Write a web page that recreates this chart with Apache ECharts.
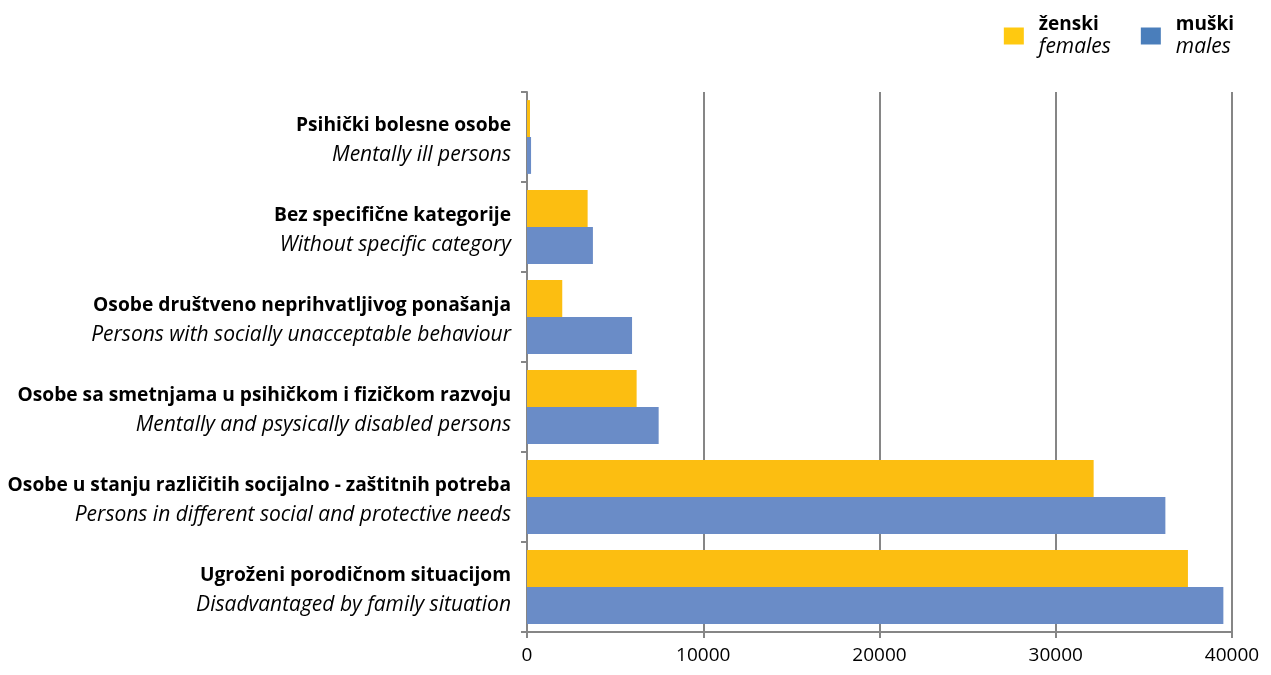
<!DOCTYPE html>
<html>
<head>
<meta charset="utf-8">
<script src="https://cdn.jsdelivr.net/npm/echarts@6/dist/echarts.min.js"></script>
<style>
html,body{margin:0;padding:0;background:#fff;}
#main{width:1271px;height:675px;}
</style>
</head>
<body>
<div id="main"></div>
<script>
// Categories listed bottom to top (ECharts category y-axis starts at the bottom)
var categoriesLocal = [
  'Ugroženi porodičnom situacijom',
  'Osobe u stanju različitih socijalno - zaštitnih potreba',
  'Osobe sa smetnjama u psihičkom i fizičkom razvoju',
  'Osobe društveno neprihvatljivog ponašanja',
  'Bez specifične kategorije',
  'Psihički bolesne osobe'
];
var categoriesEnglish = [
  'Disadvantaged by family situation',
  'Persons in different social and protective needs',
  'Mentally and psysically disabled persons',
  'Persons with socially unacceptable behaviour',
  'Without specific category',
  'Mentally ill persons'
];
var femalesValues = [37500, 32150, 6220, 2000, 3440, 170];
var malesValues   = [39510, 36220, 7470, 5960, 3740, 230];
var seriesNames = ['ženski', 'muški'];
var seriesNamesEnglish = ['females', 'males'];
var xTicks = [0, 10000, 20000, 30000, 40000];

var FONT = 'Open Sans';
var chart = echarts.init(document.getElementById('main'));
chart.setOption({
  animation: false,
  textStyle: { fontFamily: FONT },
  legend: {
    top: 10,
    right: 32,
    itemWidth: 20,
    itemHeight: 17,
    itemGap: 30,
    icon: 'rect',
    data: [
      { name: seriesNames[0], itemStyle: { color: '#FFC910' } },
      { name: seriesNames[1], itemStyle: { color: '#4A7EBB' } }
    ],
    formatter: function (name) {
      var i = seriesNames.indexOf(name);
      return '{b|' + name + '}\n{i|' + seriesNamesEnglish[i] + '}';
    },
    textStyle: {
      padding: [0, 0, 0, 10],
      rich: {
        b: { fontFamily: FONT, fontWeight: 'bold', fontSize: 19, color: '#000', lineHeight: 23 },
        i: { fontFamily: FONT, fontStyle: 'italic', fontSize: 21, color: '#000', lineHeight: 23 }
      }
    }
  },
  grid: { left: 527, right: 39, top: 92, bottom: 43, containLabel: false },
  xAxis: {
    type: 'value',
    min: xTicks[0],
    max: xTicks[xTicks.length - 1],
    interval: xTicks[1] - xTicks[0],
    axisLine: { show: true, lineStyle: { color: '#868686', width: 2 } },
    axisTick: { show: true, length: 6, lineStyle: { color: '#868686', width: 2 } },
    splitLine: { show: true, lineStyle: { color: '#868686', width: 2 } },
    axisLabel: {
      color: '#000', fontSize: 19, fontFamily: FONT, margin: 14,
      formatter: function (v) { return String(v); }
    }
  },
  yAxis: {
    type: 'category',
    data: categoriesLocal,
    axisLine: { show: true, lineStyle: { color: '#868686', width: 2 } },
    axisTick: { show: true, length: 6, lineStyle: { color: '#868686', width: 2 } },
    axisLabel: {
      margin: 16,
      align: 'right',
      padding: [7, 0, 0, 0],
      formatter: function (value, idx) {
        return '{b|' + value + '}\n{i|' + categoriesEnglish[idx] + '}';
      },
      rich: {
        b: { fontFamily: FONT, fontWeight: 'bold', fontSize: 19.2, color: '#000', lineHeight: 29, align: 'right' },
        i: { fontFamily: FONT, fontStyle: 'italic', fontSize: 21, color: '#000', lineHeight: 29, align: 'right' }
      }
    }
  },
  series: [
    {
      name: seriesNames[0],
      type: 'bar',
      data: femalesValues,
      itemStyle: { color: '#FCBE11' },
      barGap: '0%',
      barCategoryGap: '18%'
    },
    {
      name: seriesNames[1],
      type: 'bar',
      data: malesValues,
      itemStyle: { color: '#6A8CC7' },
      barGap: '0%',
      barCategoryGap: '18%'
    }
  ]
});
</script>
</body>
</html>
